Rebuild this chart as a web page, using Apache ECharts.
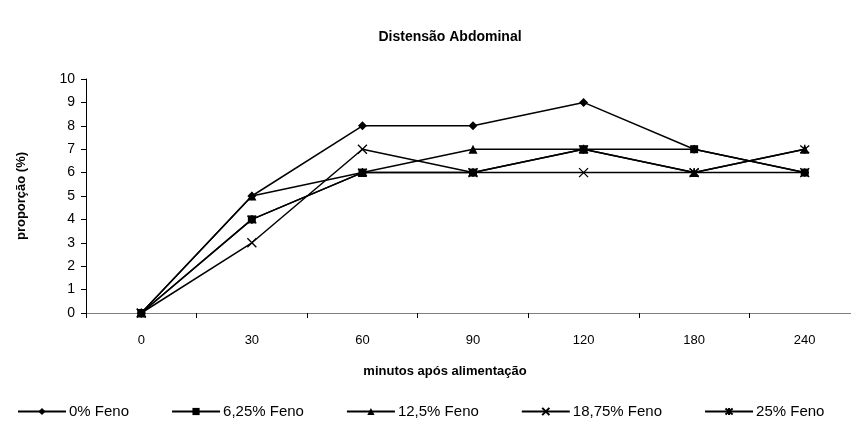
<!DOCTYPE html>
<html>
<head>
<meta charset="utf-8">
<script src="https://cdn.jsdelivr.net/npm/echarts@6/dist/echarts.min.js"></script>
<style>html,body{margin:0;padding:0;background:#fff;overflow:hidden}#c{width:880px;height:421px}</style>
</head>
<body>
<div id="c"></div>
<script>
var categories = ['0', '30', '60', '90', '120', '180', '240'];
var feno0 = [0, 5, 8, 8, 9, 7, 6];
var feno625 = [0, 4, 6, 6, 7, 7, 6];
var feno125 = [0, 5, 6, 7, 7, 6, 7];
var feno1875 = [0, 3, 7, 6, 6, 6, 6];
var feno25 = [0, 4, 6, 6, 7, 6, 7];
var seriesNames = ['0% Feno', '6,25% Feno', '12,5% Feno', '18,75% Feno', '25% Feno'];
var yTicks = [0, 1, 2, 3, 4, 5, 6, 7, 8, 9, 10];

var FONT = 'Liberation Sans, Arial, sans-serif';
var xPath = 'path://M0,0L10,10M10,0L0,10';
var starPath = 'path://M0,0L10,10M10,0L0,10M5,-1L5,11';

function mk(name, data, symbol, size, stroke) {
  return {
    name: name, type: 'line', data: data,
    symbol: symbol, symbolSize: size,
    showAllSymbol: true,
    lineStyle: {color: '#000', width: 1.5},
    itemStyle: stroke ? {color: '#000', borderColor: '#000', borderWidth: 1.3} : {color: '#000'},
    emphasis: {disabled: true},
    animation: false
  };
}

var chart = echarts.init(document.getElementById('c'), null, {renderer: 'canvas'});
chart.setOption({
  backgroundColor: '#fff',
  animation: false,
  title: {
    text: 'Distensão Abdominal', left: 445, top: 25, textAlign: 'center',
    textStyle: {fontFamily: FONT, fontWeight: 'bold', fontSize: 14, color: '#000'}
  },
  legend: {
    top: 399, left: 12,
    itemWidth: 48, itemHeight: 9, itemGap: 42,
    textStyle: {fontFamily: FONT, fontSize: 15, color: '#000', padding: [0, 0, 0, -2]},
    data: seriesNames
  },
  grid: {left: 86, top: 79, width: 774, height: 234},
  xAxis: {
    type: 'category', data: categories, boundaryGap: true,
    name: 'minutos após alimentação', nameLocation: 'middle', nameGap: 52,
    nameTextStyle: {fontFamily: FONT, fontWeight: 'bold', fontSize: 13, color: '#000', padding: [0, 0, 0, -56]},
    axisLine: {lineStyle: {color: '#808080', width: 1}},
    axisTick: {show: true, length: 5, alignWithLabel: false, lineStyle: {color: '#000'}},
    axisLabel: {fontFamily: FONT, fontSize: 13, color: '#000', margin: 21}
  },
  yAxis: {
    type: 'value', min: 0, max: 10, interval: 1,
    name: 'proporção (%)', nameLocation: 'middle', nameGap: 58, nameRotate: 90,
    nameTextStyle: {fontFamily: FONT, fontWeight: 'bold', fontSize: 13, color: '#000'},
    axisLine: {show: true, lineStyle: {color: '#000', width: 1}},
    axisTick: {show: true, length: 5, lineStyle: {color: '#000'}},
    splitLine: {show: false},
    axisLabel: {fontFamily: FONT, fontSize: 14, color: '#000', margin: 11,
      formatter: function (v) { return yTicks.indexOf(v) >= 0 ? String(v) : ''; }}
  },
  series: [
    mk(seriesNames[0], feno0, 'diamond', 9, false),
    mk(seriesNames[1], feno625, 'rect', 8, false),
    mk(seriesNames[2], feno125, 'triangle', 9, false),
    mk(seriesNames[3], feno1875, xPath, 9, true),
    mk(seriesNames[4], feno25, starPath, 9, true)
  ]
});
</script>
</body>
</html>
